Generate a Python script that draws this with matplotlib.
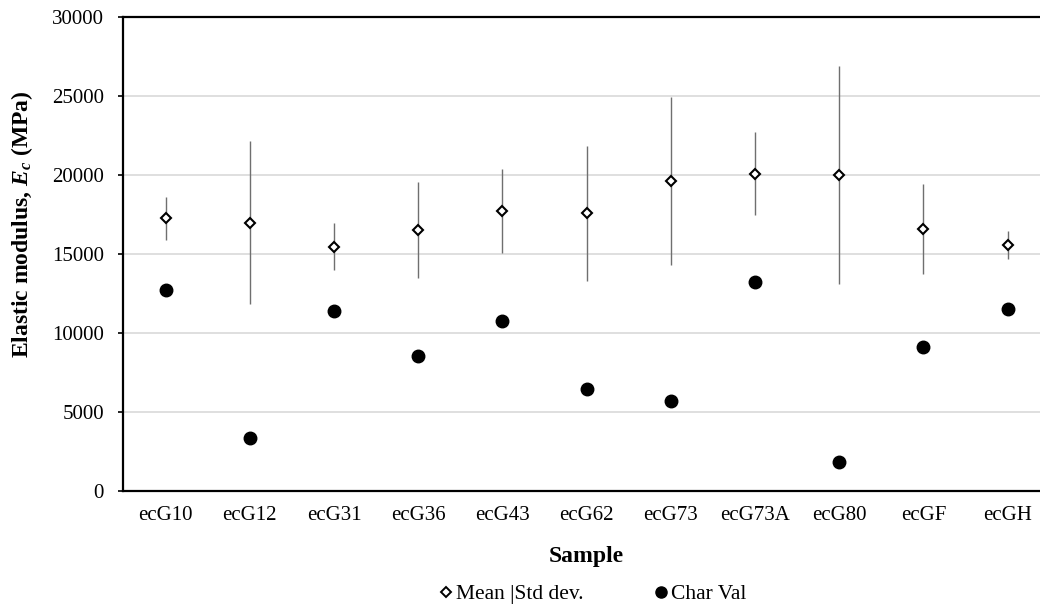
import matplotlib
matplotlib.use("Agg")
import matplotlib.pyplot as plt
from matplotlib.lines import Line2D

# Elastic modulus per sample (MPa)
samples = ["ecG10", "ecG12", "ecG31", "ecG36", "ecG43", "ecG62",
           "ecG73", "ecG73A", "ecG80", "ecGF", "ecGH"]
mean_vals = [17260, 16990, 15470, 16540, 17730, 17580,
             19620, 20100, 20010, 16590, 15590]
std_vals = [1370, 5170, 1480, 3040, 2650, 4270,
            5310, 2630, 6910, 2860, 890]
char_vals = [12720, 3360, 11410, 8540, 10750, 6430,
             5700, 13210, 1840, 9130, 11500]
y_ticks = [0, 5000, 10000, 15000, 20000, 25000, 30000]

plt.rcParams["font.family"] = ["Liberation Serif", "DejaVu Serif"]
plt.rcParams["mathtext.fontset"] = "custom"
plt.rcParams["mathtext.rm"] = "Liberation Serif"
plt.rcParams["mathtext.it"] = "Liberation Serif:italic"
plt.rcParams["mathtext.bf"] = "Liberation Serif:bold"
plt.rcParams["mathtext.bfit"] = "Liberation Serif:italic:bold"

W, H = 1040, 606
fig = plt.figure(figsize=(W / 100, H / 100), dpi=100)
left, right, top, bottom = 123.4, 1049.8, 17.3, 490.7
ax = fig.add_axes([left / W, 1 - bottom / H, (right - left) / W, (bottom - top) / H])

x = list(range(len(samples)))
ax.errorbar(x, mean_vals, yerr=std_vals, fmt="none", ecolor="#6f6f6f",
            elinewidth=1.0, capsize=0, zorder=2)
ax.plot(x, mean_vals, linestyle="none", marker="D", ms=5.4, mfc="white",
        mec="black", mew=1.5, zorder=3)
ax.plot(x, char_vals, linestyle="none", marker="o", ms=9, color="black", zorder=3)

ax.set_xlim(-0.5, 10.5)
ax.set_ylim(0, 30000)
ax.set_yticks(y_ticks)
ax.set_xticks(x)
ax.set_xticklabels(samples)
ax.grid(axis="y", color="#d9d9d9", lw=1.2)
ax.set_axisbelow(True)

for side in ("left", "bottom", "top"):
    ax.spines[side].set_color("black")
    ax.spines[side].set_linewidth(1.6)
ax.spines["right"].set_visible(False)

ax.tick_params(axis="x", length=0, pad=10.7, labelsize=15)
ax.tick_params(axis="y", length=3.6, width=1.2, pad=10.4, labelsize=15)

fig.text(586.6 / W, 1 - 561.7 / H, "Sample", ha="center", va="baseline",
         fontsize=17, fontweight="bold")
fig.text(22 / W, 1 - 224 / H, r"Elastic modulus, $\mathbfit{E_c}$ (MPa)",
         rotation=90, ha="center", va="center", fontsize=17, fontweight="bold")

handles = [
    Line2D([], [], linestyle="none", marker="D", ms=5.6, mfc="white",
           mec="black", mew=1.4),
    Line2D([], [], linestyle="none", marker="o", ms=8, color="black"),
]
fig.legend(handles, ["Mean |Std dev.", "Char Val"], loc="center",
           bbox_to_anchor=(594 / W, 1 - 594.4 / H), ncol=2, frameon=False,
           fontsize=15.5, handlelength=0.4, handletextpad=0.25,
           columnspacing=3.4, borderpad=0, borderaxespad=0)

fig.savefig("out.png", dpi=100)
